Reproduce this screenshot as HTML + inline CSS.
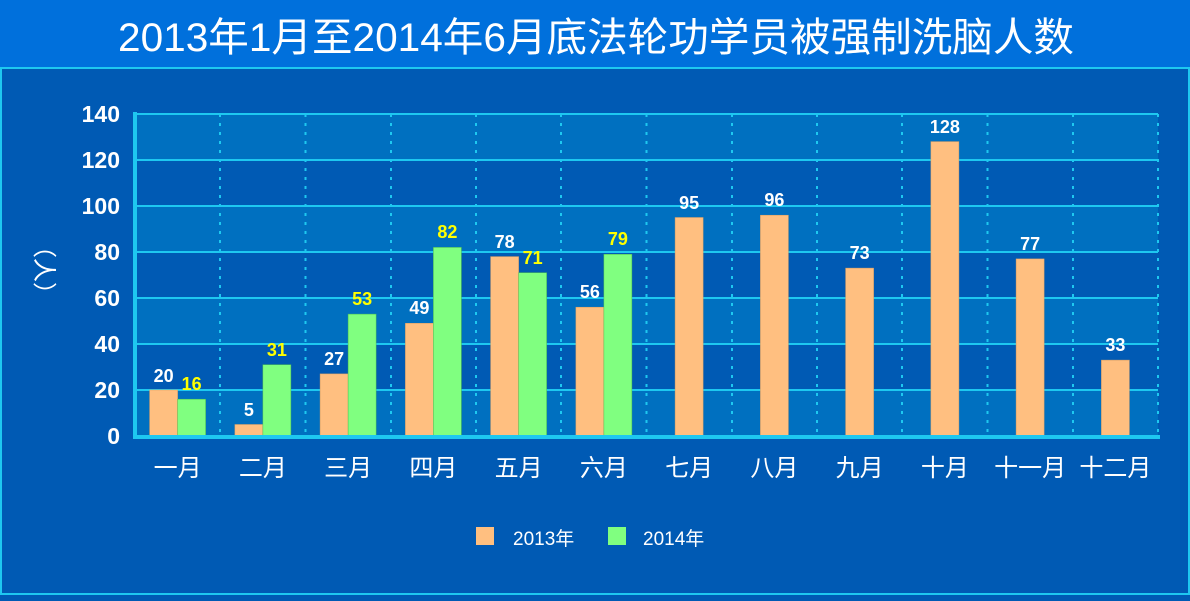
<!DOCTYPE html>
<html><head><meta charset="utf-8"><style>
body{margin:0;width:1190px;height:596px;overflow:hidden;background:#005ab4}
</style></head><body>
<svg width="1190" height="596" xmlns="http://www.w3.org/2000/svg" font-family="Liberation Sans, Noto Sans CJK SC, sans-serif">
<rect x="0" y="0" width="1190" height="596" fill="#005ab4"/>
<rect x="0" y="0" width="1190" height="68" fill="#0070dc"/>
<rect x="1" y="68" width="1188" height="526" fill="none" stroke="#1ec8f0" stroke-width="2"/>
<text x="596" y="51" fill="#fff" font-size="40" text-anchor="middle" textLength="956" lengthAdjust="spacingAndGlyphs">2013年1月至2014年6月底法轮功学员被强制洗脑人数</text>
<g fill="#0070c0">
<rect x="135" y="114" width="1023" height="46"/>
<rect x="135" y="206" width="1023" height="46"/>
<rect x="135" y="298" width="1023" height="46"/>
<rect x="135" y="390" width="1023" height="46"/>
</g>
<g stroke="#1ec8f0" stroke-width="2">
<line x1="135" y1="114" x2="1158" y2="114"/><line x1="135" y1="160" x2="1158" y2="160"/>
<line x1="135" y1="206" x2="1158" y2="206"/><line x1="135" y1="252" x2="1158" y2="252"/>
<line x1="135" y1="298" x2="1158" y2="298"/><line x1="135" y1="344" x2="1158" y2="344"/>
<line x1="135" y1="390" x2="1158" y2="390"/>
</g>
<g stroke="#1ec8f0" stroke-width="2" stroke-dasharray="3,6">
<line x1="220" y1="114" x2="220" y2="436"/><line x1="305.5" y1="114" x2="305.5" y2="436"/>
<line x1="391" y1="114" x2="391" y2="436"/><line x1="476" y1="114" x2="476" y2="436"/>
<line x1="561" y1="114" x2="561" y2="436"/><line x1="646.5" y1="114" x2="646.5" y2="436"/>
<line x1="732" y1="114" x2="732" y2="436"/><line x1="817" y1="114" x2="817" y2="436"/>
<line x1="902" y1="114" x2="902" y2="436"/><line x1="987.5" y1="114" x2="987.5" y2="436"/>
<line x1="1073" y1="114" x2="1073" y2="436"/><line x1="1158" y1="114" x2="1158" y2="436"/>
</g>
<g fill="#ffbf80" stroke="#e0a060" stroke-width="0.5">
<rect x="149.6" y="390" width="28" height="46"/>
<rect x="234.9" y="424.5" width="28" height="11.5"/>
<rect x="320.1" y="373.9" width="28" height="62.1"/>
<rect x="405.4" y="323.3" width="28" height="112.7"/>
<rect x="490.6" y="256.6" width="28" height="179.4"/>
<rect x="575.9" y="307.2" width="28" height="128.8"/>
<rect x="675.1" y="217.5" width="28" height="218.5"/>
<rect x="760.4" y="215.2" width="28" height="220.8"/>
<rect x="845.6" y="268.1" width="28" height="167.9"/>
<rect x="930.9" y="141.6" width="28" height="294.4"/>
<rect x="1016.1" y="258.9" width="28" height="177.1"/>
<rect x="1101.4" y="360.1" width="28" height="75.9"/>
</g>
<g fill="#80ff80" stroke="#50c050" stroke-width="0.5">
<rect x="177.6" y="399.2" width="28" height="36.8"/>
<rect x="262.9" y="364.7" width="28" height="71.3"/>
<rect x="348.1" y="314.1" width="28" height="121.9"/>
<rect x="433.4" y="247.4" width="28" height="188.6"/>
<rect x="518.6" y="272.7" width="28" height="163.3"/>
<rect x="603.9" y="254.3" width="28" height="181.7"/>
</g>
<g fill="#fff" font-size="18" font-weight="bold" text-anchor="middle">
<text x="163.6" y="382">20</text><text x="248.9" y="416">5</text><text x="334.1" y="365">27</text>
<text x="419.4" y="314">49</text><text x="504.6" y="248">78</text><text x="589.9" y="298">56</text>
<text x="689.1" y="209">95</text><text x="774.4" y="206">96</text><text x="859.6" y="259">73</text>
<text x="944.9" y="133">128</text><text x="1030.1" y="250">77</text><text x="1115.4" y="351">33</text>
</g>
<g fill="#ffff00" font-size="18" font-weight="bold" text-anchor="middle">
<text x="191.6" y="390">16</text><text x="276.9" y="356">31</text><text x="362.1" y="305">53</text>
<text x="447.4" y="238">82</text><text x="532.6" y="264">71</text><text x="617.9" y="245">79</text>
</g>
<line x1="135" y1="112" x2="135" y2="438" stroke="#1ec8f0" stroke-width="4"/>
<line x1="133" y1="437" x2="1160" y2="437" stroke="#1ec8f0" stroke-width="4"/>
<g fill="#fff" font-weight="bold" font-size="23" text-anchor="end">
<text x="120" y="122">140</text><text x="120" y="168">120</text><text x="120" y="214">100</text>
<text x="120" y="260">80</text><text x="120" y="306">60</text><text x="120" y="352">40</text>
<text x="120" y="398">20</text><text x="120" y="444">0</text>
</g>
<text transform="translate(36,270) rotate(90)" fill="#fff" font-size="24" text-anchor="middle">（人）</text>
<g fill="#fff" font-size="24" text-anchor="middle">
<text x="177.6" y="476">一月</text><text x="262.9" y="476">二月</text><text x="348.1" y="476">三月</text>
<text x="433.4" y="476">四月</text><text x="518.6" y="476">五月</text><text x="603.9" y="476">六月</text>
<text x="689.1" y="476">七月</text><text x="774.4" y="476">八月</text><text x="859.6" y="476">九月</text>
<text x="944.9" y="476">十月</text><text x="1030.1" y="476">十一月</text><text x="1115.4" y="476">十二月</text>
</g>
<rect x="476" y="527" width="18" height="18" fill="#ffbf80"/>
<text x="513" y="545" fill="#fff" font-size="19">2013年</text>
<rect x="608" y="527" width="18" height="18" fill="#80ff80"/>
<text x="643" y="545" fill="#fff" font-size="19">2014年</text>
</svg>
</body></html>
